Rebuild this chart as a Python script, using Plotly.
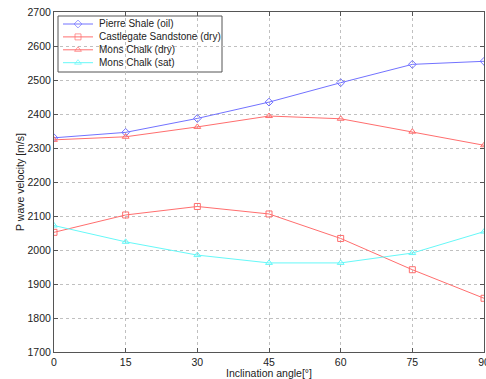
import plotly.graph_objects as go

angles = [0, 15, 30, 45, 60, 75, 90]
pierre_shale = [2330, 2346, 2387, 2435, 2492, 2546, 2555]
castlegate = [2052, 2103, 2128, 2106, 2034, 1942, 1858]
mons_dry = [2324, 2333, 2362, 2394, 2386, 2348, 2308]
mons_sat = [2072, 2024, 1985, 1962, 1962, 1991, 2054]

series_names = ["Pierre Shale (oil)", "Castlegate Sandstone (dry)", "Mons Chalk (dry)", "Mons Chalk (sat)"]
series_values = [pierre_shale, castlegate, mons_dry, mons_sat]
series_colors = ["#7272ff", "#ff6e6e", "#ff6e6e", "#66f8f8"]
series_symbols = ["diamond-open", "square-open", "triangle-up-open", "triangle-up-open"]

# plot area in pixels
W, H = 486, 379
ML, MR, MT, MB = 54, 2, 12, 27
PW, PH = W - ML - MR, H - MT - MB

fig = go.Figure()
for name, vals, col, sym in zip(series_names, series_values, series_colors, series_symbols):
    fig.add_trace(go.Scatter(
        x=angles, y=vals, name=name, mode="lines+markers",
        line=dict(color=col, width=1),
        marker=dict(symbol=sym, size=6, color=col, line=dict(width=1, color=col)),
        showlegend=False,
    ))

# custom compact legend drawn on a hidden pixel-space overlay axis
def px_x(px):
    return px - ML

def px_y(py):
    return (H - MB) - py

leg_left, leg_right, leg_top, leg_bottom = 58, 222, 16, 72
row0, row_step = 24, 12.9
fig.add_shape(type="rect", xref="paper", yref="paper",
              x0=px_x(leg_left) / PW, x1=px_x(leg_right) / PW,
              y0=px_y(leg_bottom) / PH, y1=px_y(leg_top) / PH,
              line=dict(color="#555555", width=1), fillcolor="white", layer="between")
for i, (name, col, sym) in enumerate(zip(series_names, series_colors, series_symbols)):
    ry = px_y(row0 + i * row_step)
    fig.add_trace(go.Scatter(
        x=[px_x(63), px_x(78), px_x(93)], y=[ry, ry, ry],
        xaxis="x2", yaxis="y2", mode="lines+markers",
        line=dict(color=col, width=1),
        marker=dict(symbol=sym, size=[0, 6, 0], color=col, line=dict(width=1, color=col)),
        showlegend=False, hoverinfo="skip",
    ))
    fig.add_annotation(x=px_x(97) / PW, y=ry / PH, xref="paper", yref="paper", text=name,
                       showarrow=False, xanchor="left", yanchor="middle",
                       font=dict(size=10, color="#222222"))

axis_common = dict(
    showline=True, linecolor="#555555", linewidth=1, mirror="ticks",
    ticks="inside", ticklen=4, tickcolor="#555555",
    showgrid=True, gridcolor="#c0c0c0", griddash="dot", gridwidth=1,
    zeroline=False, tickfont=dict(size=10.5, color="#222222"), automargin=False,
)

fig.update_xaxes(range=[0, 90], tickvals=angles, ticklabeloverflow="allow",
                 title=dict(text="Inclination angle[°]", font=dict(size=10.5), standoff=2), **axis_common)
fig.update_yaxes(range=[1700, 2700], dtick=100,
                 title=dict(text="P wave velocity [m/s]", font=dict(size=10.5), standoff=0), **axis_common)

fig.update_layout(
    width=W, height=H,
    margin=dict(l=ML, r=MR, t=MT, b=MB),
    paper_bgcolor="white", plot_bgcolor="white",
    font=dict(family="Liberation Sans, Arial", size=10.5, color="#222222"),
    xaxis2=dict(overlaying="x", anchor="y2", range=[0, PW], visible=False, fixedrange=True),
    yaxis2=dict(overlaying="y", anchor="x2", range=[0, PH], visible=False, fixedrange=True),
    showlegend=False,
)

fig.write_html("out.html")
